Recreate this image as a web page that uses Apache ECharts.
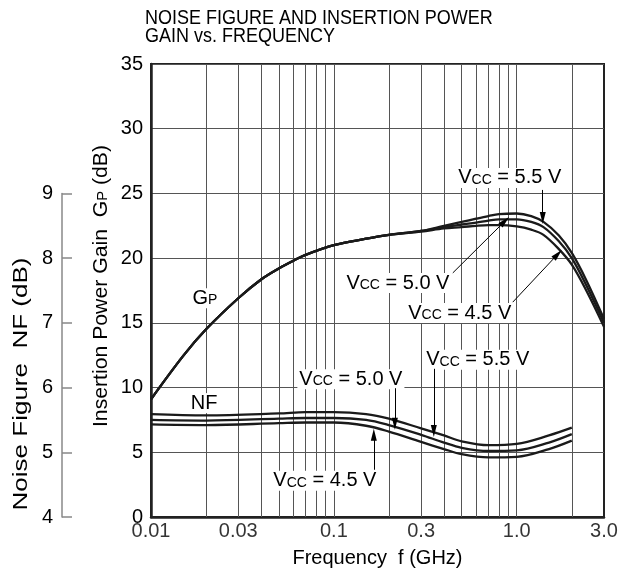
<!DOCTYPE html>
<html><head><meta charset="utf-8">
<script src="https://cdn.jsdelivr.net/npm/echarts@6/dist/echarts.min.js"></script>
<style>html,body{margin:0;padding:0;background:#fff}#c{width:618px;height:576px}</style>
</head><body><div id="c"></div>
<script>
// ---------- data ----------
const freqGridLines = [0.02,0.03,0.04,0.05,0.06,0.07,0.08,0.09,0.1,0.2,0.3,0.4,0.5,0.6,0.7,0.8,0.9,1.0,2.0];
const xTickValues = [0.01,0.03,0.1,0.3,1.0,3.0];
const xTickLabels = ['0.01','0.03','0.1','0.3','1.0','3.0'];

// Insertion power gain Gp (dB): shared low-frequency part, then one branch per Vcc
const gpFreqShared = [0.01,0.015,0.02,0.03,0.04,0.05,0.06,0.07,0.1,0.15,0.2];
const gpShared     = [9.1,12.45,14.5,16.9,18.35,19.2,19.8,20.25,21.0,21.5,21.8];
const gpFreqSplit  = [0.3,0.4,0.5,0.6,0.7,0.8,1.0,1.2,1.4,1.7,2.0,2.4,3.0];
const gpVcc55 = [22.1,22.5,22.8,23.05,23.25,23.4,23.45,23.25,22.8,21.75,20.4,18.3,15.3];
const gpVcc50 = [22.1,22.4,22.6,22.75,22.9,23.0,23.0,22.8,22.4,21.3,20.0,17.9,15.0];
const gpVcc45 = [22.05,22.3,22.4,22.5,22.55,22.55,22.45,22.2,21.8,20.7,19.5,17.5,14.7];

// Noise figure NF (dB)
const nfFreq  = [0.01,0.02,0.05,0.07,0.1,0.15,0.2,0.3,0.4,0.5,0.7,1.0,1.5,2.0];
const nfVcc55 = [5.59,5.57,5.60,5.62,5.62,5.59,5.52,5.37,5.26,5.17,5.11,5.13,5.26,5.38];
const nfVcc50 = [5.50,5.49,5.52,5.53,5.53,5.50,5.42,5.27,5.15,5.07,5.02,5.03,5.15,5.28];
const nfVcc45 = [5.43,5.42,5.45,5.46,5.46,5.41,5.32,5.16,5.05,4.97,4.92,4.93,5.05,5.18];

// annotations (frequency GHz, dB)
const gpNoteLabels = [
  {text:'{v|V}{s|CC}{v| = 5.5 V}', f:0.916, v:26.2},
  {text:'{v|V}{s|CC}{v| = 5.0 V}', f:0.224, v:18.08},
  {text:'{v|V}{s|CC}{v| = 4.5 V}', f:0.488, v:15.76},
  {text:'{v|G}{s|P}', f:0.0197, v:16.9}
];
const gpNoteArrows = [
  [[1.387,25.27],[1.387,23.1]],
  [[0.447,18.86],[0.86,22.85]],
  [[0.951,16.6],[1.675,20.3]]
];
const nfNoteLabels = [
  {text:'{v|V}{s|CC}{v| = 5.0 V}', f:0.1239, v:6.13},
  {text:'{v|V}{s|CC}{v| = 5.5 V}', f:0.612, v:6.43},
  {text:'{v|V}{s|CC}{v| = 4.5 V}', f:0.0893, v:4.56},
  {text:'{v|NF}', f:0.0195, v:5.76}
];
const nfNoteArrows = [
  [[0.2155,5.99],[0.2155,5.44]],
  [[0.352,6.29],[0.352,5.33]],
  [[0.1654,4.73],[0.1654,5.27]]
];

// ---------- chart ----------
const FONT = '"Liberation Sans", Arial, Helvetica, sans-serif';
const rich = {
  v: {fontSize: 20, fontFamily: FONT, color: '#000', verticalAlign: 'bottom', lineHeight: 20},
  s: {fontSize: 14, fontFamily: FONT, color: '#000', verticalAlign: 'bottom', lineHeight: 20, padding:[0,0,1,0]}
};
const curveStyle = {color: '#1a1a1a', width: 2.3};
const pairs = (xs, ys) => xs.map((x, i) => [x, ys[i]]);
const gpData = branch => pairs(gpFreqShared.concat(gpFreqSplit), gpShared.concat(branch));

function notePoints(list) {
  return {
    silent: true, z: 6,
    symbol: 'circle', symbolSize: 0,
    label: {show: true, position: 'inside', backgroundColor: '#fff', padding: [0, 2], rich: rich,
            formatter: p => p.data.txt},
    data: list.map(n => ({coord: [n.f, n.v], txt: n.text}))
  };
}
function noteArrows(list) {
  return {
    silent: true, z: 7,
    symbol: ['none', 'triangle'], symbolSize: [6, 12],
    itemStyle: {color: '#000'},
    lineStyle: {color: '#000', width: 1, type: 'solid'},
    label: {show: false},
    emphasis: {disabled: true},
    data: list.map(a => [{coord: a[0]}, {coord: a[1]}])
  };
}
const lineSeries = (name, yIdx, data) => ({
  type: 'line', name: name, xAxisIndex: 0, yAxisIndex: yIdx, data: data,
  smooth: 0.35, showSymbol: false, symbol: 'none', lineStyle: curveStyle, z: 3
});

const chart = echarts.init(document.getElementById('c'), null, {renderer: 'canvas'});
chart.setOption({
  animation: false,
  backgroundColor: '#fff',
  graphic: [
    {type: 'text', x: 145, y: 9, scaleX: 0.9,
     style: {text: 'NOISE FIGURE AND INSERTION POWER\nGAIN vs. FREQUENCY', font: '20px ' + FONT,
             lineHeight: 18, fill: '#000', textAlign: 'left', textVerticalAlign: 'top'}},
    {type: 'text', x: 21, y: 384, rotation: Math.PI / 2, scaleX: 1.3,
     style: {text: 'Noise Figure  NF (dB)', font: '20px ' + FONT, fill: '#000', textAlign: 'center', textVerticalAlign: 'middle'}},
    {type: 'text', x: 101, y: 286, rotation: Math.PI / 2, scaleX: 1.06,
     style: {text: '{v|Insertion Power Gain  G}{s|P}{v| (dB)}', rich: rich, textAlign: 'center', textVerticalAlign: 'middle'}}
  ],
  grid: [
    {left: 151, right: 14, top: 64, bottom: 59, show: true, borderColor: '#222', borderWidth: 2, backgroundColor: 'transparent'},
    {left: 62, width: 10, top: 193.5, bottom: 59, show: false}
  ],
  xAxis: [
    {type: 'log', logBase: 10, min: 0.01, max: 3, gridIndex: 0,
     name: 'Frequency  f (GHz)', nameLocation: 'middle', nameGap: 31,
     nameTextStyle: {fontSize: 20, color: '#000', fontFamily: FONT},
     axisLine: {show: true, lineStyle: {color: '#222', width: 2.5}},
     axisTick: {show: false}, axisLabel: {show: false}, splitLine: {show: false}, minorSplitLine: {show: false}},
    {type: 'value', gridIndex: 1, show: false}
  ],
  yAxis: [
    {type: 'value', min: 0, max: 35, interval: 5, gridIndex: 0,
     axisLine: {show: true, lineStyle: {color: '#222', width: 2.5}},
     axisTick: {show: false},
     axisLabel: {fontSize: 20, color: '#000', fontFamily: FONT, margin: 8},
     splitLine: {show: true, lineStyle: {color: '#555', width: 1}}},
    {type: 'value', min: 4, max: 11, gridIndex: 0, show: false},
    {type: 'value', min: 4, max: 9, interval: 1, gridIndex: 1, position: 'left',
     axisLine: {show: true, lineStyle: {color: '#888', width: 1.5}},
     axisTick: {show: true, inside: true, length: 10, lineStyle: {color: '#888', width: 1.5}},
     axisLabel: {fontSize: 20, color: '#000', fontFamily: FONT, margin: 9},
     splitLine: {show: false}}
  ],
  series: [
    {type: 'line', name: 'grid', xAxisIndex: 0, yAxisIndex: 0, data: [], silent: true,
     markLine: {silent: true, z: 1, symbol: ['none', 'none'], label: {show: false},
                lineStyle: {color: '#555', width: 1, type: 'solid'}, emphasis: {disabled: true},
                data: freqGridLines.map(f => ({xAxis: f}))}},
    Object.assign(lineSeries('Gp Vcc=5.5V', 0, gpData(gpVcc55)),
      {markPoint: notePoints(gpNoteLabels), markLine: noteArrows(gpNoteArrows)}),
    lineSeries('Gp Vcc=5.0V', 0, gpData(gpVcc50)),
    lineSeries('Gp Vcc=4.5V', 0, gpData(gpVcc45)),
    Object.assign(lineSeries('NF Vcc=5.5V', 1, pairs(nfFreq, nfVcc55)),
      {markPoint: notePoints(nfNoteLabels), markLine: noteArrows(nfNoteArrows)}),
    lineSeries('NF Vcc=5.0V', 1, pairs(nfFreq, nfVcc50)),
    lineSeries('NF Vcc=4.5V', 1, pairs(nfFreq, nfVcc45)),
    {type: 'scatter', name: 'xticks', xAxisIndex: 0, yAxisIndex: 0, clip: false, silent: true,
     symbolSize: 0, data: xTickValues.map(v => [v, 0]),
     label: {show: true, position: 'bottom', distance: 4, fontSize: 20, color: '#000', fontFamily: FONT,
             formatter: p => xTickLabels[p.dataIndex]}}
  ]
});
</script></body></html>
